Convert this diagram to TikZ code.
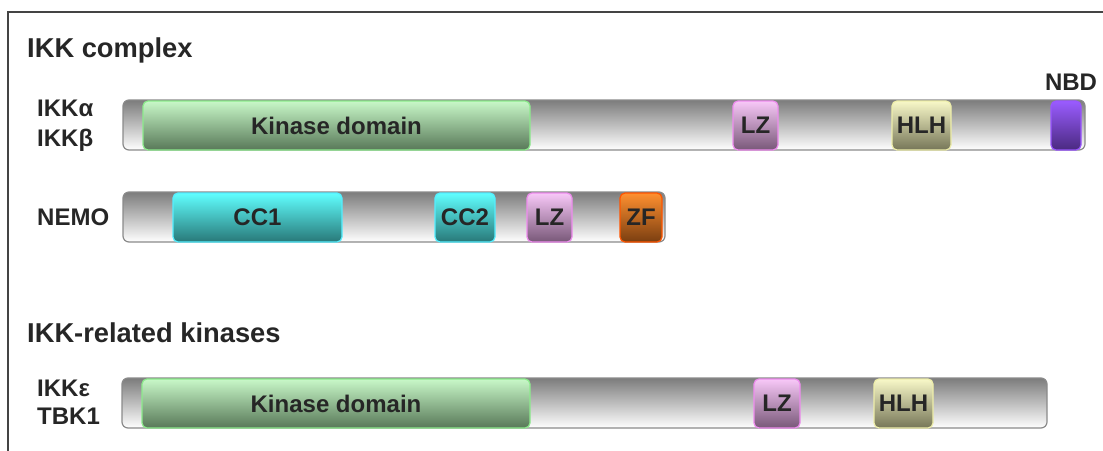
\documentclass[tikz,border=0pt]{standalone}
\usepackage{fontspec}
\setmainfont{Liberation Sans}
\definecolor{txt}{HTML}{262626}
\definecolor{framec}{HTML}{444444}
\definecolor{barline}{HTML}{8A8A8A}
\definecolor{bartop}{HTML}{7C7C7C}
\definecolor{barmid}{HTML}{D8D8D8}
\definecolor{kinT}{HTML}{C8F8C8}\definecolor{kinB}{HTML}{587858}\definecolor{kinL}{HTML}{8CEB8C}
\definecolor{lzT}{HTML}{F8C8F8}\definecolor{lzB}{HTML}{785878}\definecolor{lzL}{HTML}{EE8CEE}
\definecolor{hlhT}{HTML}{F8F8C8}\definecolor{hlhB}{HTML}{767658}\definecolor{hlhL}{HTML}{EEEEAA}
\definecolor{nbdT}{HTML}{9A5CFF}\definecolor{nbdB}{HTML}{4A2A80}\definecolor{nbdL}{HTML}{9955FF}
\definecolor{ccT}{HTML}{60FFFF}\definecolor{ccB}{HTML}{287878}\definecolor{ccL}{HTML}{55EEFF}
\definecolor{zfT}{HTML}{FF9030}\definecolor{zfB}{HTML}{7A3E10}\definecolor{zfL}{HTML}{FF5500}
\tikzset{
  protbar/.style={draw=barline, line width=1.2pt, rounded corners=6pt, anchor=north west,
    inner sep=0pt, outer sep=0pt, minimum height=50pt,
    top color=bartop, middle color=barmid, bottom color=white},
  dom/.style n args={3}{draw=#3, line width=1.2pt, rounded corners=5pt, anchor=north west,
    inner sep=0pt, outer sep=0pt, minimum height=49pt, top color=#1, bottom color=#2,
    text=txt, font=\fontsize{24}{28}\selectfont\bfseries},
  kin/.style={dom={kinT}{kinB}{kinL}},
  lz/.style={dom={lzT}{lzB}{lzL}},
  hlh/.style={dom={hlhT}{hlhB}{hlhL}},
  nbd/.style={dom={nbdT}{nbdB}{nbdL}},
  cc/.style={dom={ccT}{ccB}{ccL}},
  zf/.style={dom={zfT}{zfB}{zfL}},
  head/.style={anchor=west, inner sep=0pt, text=txt, font=\fontsize{27.3}{31}\selectfont\bfseries},
  lab/.style={anchor=west, inner sep=0pt, text=txt, font=\fontsize{24}{28}\selectfont\bfseries},
}
\begin{document}
\begin{tikzpicture}[x=1pt,y=-1pt]
\useasboundingbox (0,0) rectangle (1103,450);
\draw[framec, line width=2pt] (8,452) -- (8,12) -- (1105,12);

\node[head] (h1) at (27,50) {IKK complex};
\node[lab] (la) at (37,108) {IKKα};
\node[lab] (lb) at (37,140) {IKKβ};
\node[protbar, minimum width=962pt] (bar1) at (123,100) {};
\node[kin, minimum width=387pt] (kin1) at (143,101) {Kinase domain};
\node[lz, minimum width=45pt] (lz1) at (733,101) {LZ};
\node[hlh, minimum width=59pt] (hlh1) at (892,101) {HLH};
\node[nbd, minimum width=30pt] (nbd1) at (1051,101) {};
\node[lab, anchor=center] (nbdl) at (1071,82) {NBD};

\node[lab] (ln) at (37,217) {NEMO};
\node[protbar, minimum width=542pt] (bar2) at (123,192) {};
\node[cc, minimum width=169pt] (cc1) at (173,193) {CC1};
\node[cc, minimum width=60pt] (cc2) at (435,193) {CC2};
\node[lz, minimum width=45pt] (lz2) at (527,193) {LZ};
\node[zf, minimum width=42pt] (zf) at (620,193) {ZF};

\node[head] (h2) at (27,333) {IKK-related kinases};
\node[lab] (le) at (37,388) {IKKε};
\node[lab] (lt) at (37,416) {TBK1};
\node[protbar, minimum width=925pt] (bar3) at (122,378) {};
\node[kin, minimum width=388pt] (kin3) at (142,379) {Kinase domain};
\node[lz, minimum width=46pt] (lz3) at (754,379) {LZ};
\node[hlh, minimum width=59pt] (hlh3) at (874,379) {HLH};
\end{tikzpicture}
\end{document}
